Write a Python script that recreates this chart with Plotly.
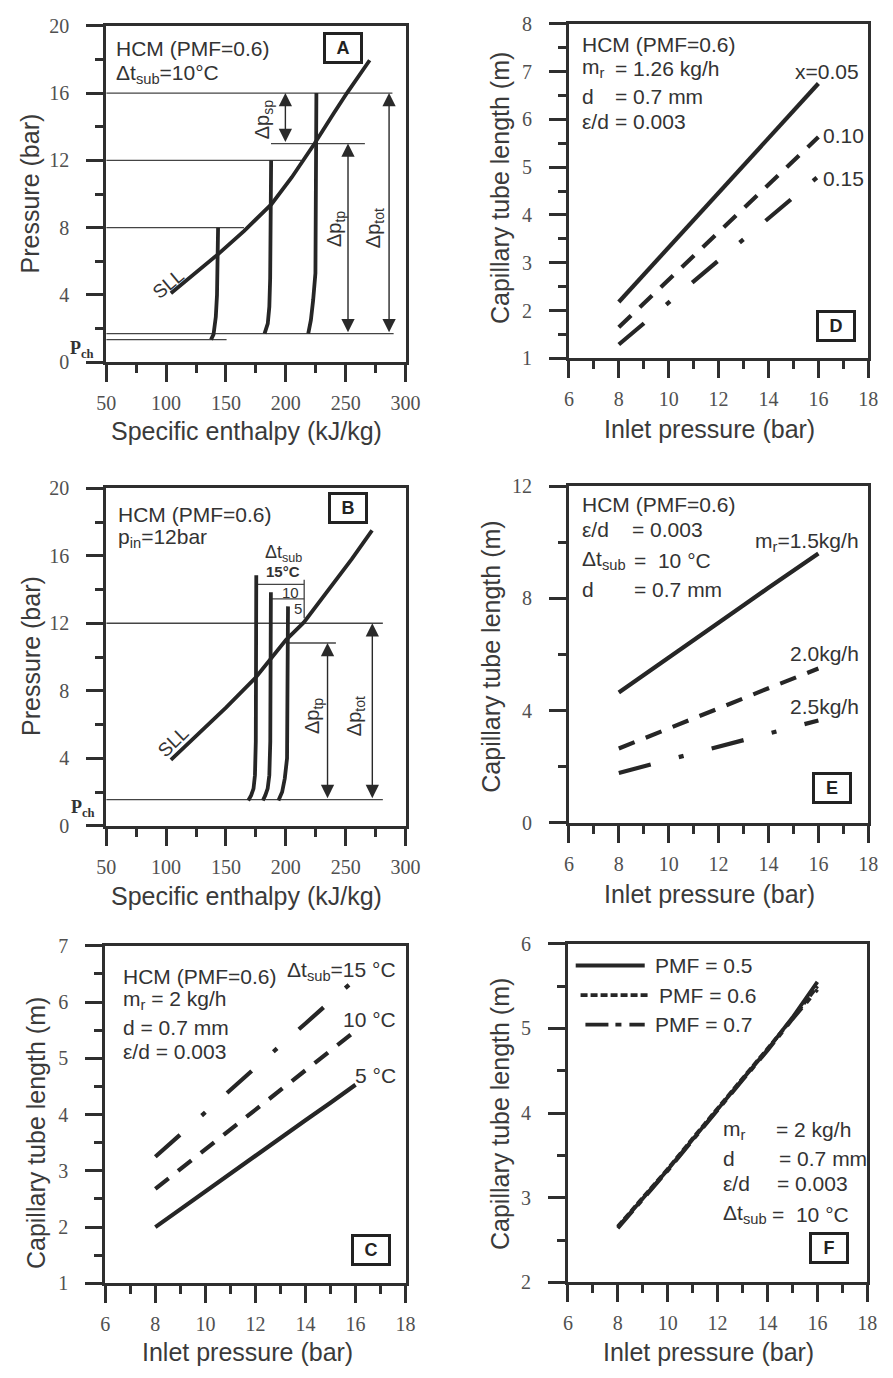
import plotly.graph_objects as go

W, H = 893, 1378
SANS = "Liberation Sans, Arial, sans-serif"
SERIF = "Liberation Serif, Times New Roman, serif"
INK = "#262626"
AXC = "#2f2f2f"
TICKC = "#505050"
TXT = "#333333"

# ---------------- Panel A: p-h diagram for three inlet pressures ----------------
sll_h_a = [104, 125, 143, 165, 188, 205, 224, 240, 251, 270]
sll_p_a = [4.1, 5.3, 6.4, 7.8, 9.4, 11.0, 13.0, 14.8, 16.0, 17.95]
exp8_h = [143.4, 143.2, 142.5, 141.5, 139.6, 137.5]
exp8_p = [8.0, 6.0, 4.0, 2.7, 1.66, 1.35]
exp12_h = [187.7, 187.5, 186.9, 186.2, 184.9, 182.2]
exp12_p = [12.0, 9.0, 5.0, 3.3, 2.3, 1.7]
exp16_h = [225.5, 225.3, 224.7, 222.8, 220.9, 218.7]
exp16_p = [16.0, 10.0, 5.3, 3.7, 2.5, 1.7]
isobar_p_a = [16, 13, 12, 8, 1.7, 1.35]
isobar_h0_a = [50, 187.6, 50, 50, 50, 50]
isobar_h1_a = [289, 266, 213, 165, 290, 150.5]
arrow_h_a = [199.6, 251.9, 286.2]
arrow_top_a = [16, 13, 16]
arrow_bot_a = [13, 1.7, 1.7]

# ---------------- Panel B: p-h diagram for three subcoolings at 12 bar ----------------
sll_h_b = [104, 125, 150, 175, 200, 215, 235, 255, 272]
sll_p_b = [3.9, 5.3, 7.0, 8.8, 11.0, 12.05, 13.9, 15.8, 17.5]
sub15_h = [175.3, 175.2, 174.9, 174.2, 173.0, 171.0, 168.6]
sub15_p = [14.85, 10.0, 5.0, 3.0, 2.2, 1.8, 1.5]
sub10_h = [187.5, 187.4, 187.0, 186.2, 184.8, 182.8, 180.8]
sub10_p = [13.84, 10.0, 5.0, 3.0, 2.2, 1.8, 1.5]
sub5_h = [201.8, 201.6, 201.0, 199.1, 196.9, 193.8]
sub5_p = [13.0, 8.0, 4.0, 2.8, 2.0, 1.5]
isobar_p_b = [1.55, 12, 10.83, 14.3, 13.45]
isobar_h0_b = [50, 50, 201, 175.2, 187.4]
isobar_h1_b = [281, 281, 241.8, 215.3, 215.3]
bracket_h_b = [215.3, 215.3]
bracket_p_b = [14.58, 12.3]
arrow_h_b = [234.8, 272.2]
arrow_top_b = [10.83, 12]
arrow_bot_b = [1.55, 1.55]

# ---------------- Panels C-F: tube length vs inlet pressure ----------------
p_in = [8, 9, 10, 11, 12, 13, 14, 15, 16]
# D: inlet quality
len_x005 = [2.18, 2.75, 3.32, 3.90, 4.47, 5.05, 5.62, 6.20, 6.75]
len_x010 = [1.65, 2.15, 2.64, 3.14, 3.64, 4.14, 4.63, 5.13, 5.63]
len_x015 = [1.29, 1.73, 2.17, 2.61, 3.05, 3.49, 3.93, 4.37, 4.81]
# E: mass flow rate
len_m15 = [4.65, 5.28, 5.90, 6.52, 7.14, 7.76, 8.38, 9.00, 9.60]
len_m20 = [2.65, 3.00, 3.36, 3.72, 4.08, 4.44, 4.80, 5.15, 5.50]
len_m25 = [1.78, 2.01, 2.25, 2.48, 2.72, 2.96, 3.19, 3.42, 3.65]
# C: subcooling
len_s5 = [2.00, 2.32, 2.63, 2.95, 3.27, 3.58, 3.90, 4.21, 4.53]
len_s10 = [2.68, 3.03, 3.38, 3.73, 4.08, 4.44, 4.79, 5.14, 5.49]
len_s15 = [3.25, 3.65, 4.04, 4.44, 4.83, 5.23, 5.62, 6.02, 6.41]
# F: pseudo-mass-fraction
len_pmf05 = [2.65, 2.99, 3.33, 3.69, 4.05, 4.40, 4.75, 5.13, 5.55]
len_pmf06 = [2.66, 3.00, 3.34, 3.70, 4.06, 4.41, 4.76, 5.12, 5.50]
len_pmf07 = [2.64, 2.98, 3.32, 3.68, 4.04, 4.39, 4.74, 5.11, 5.46]
pmf_labels = ["PMF = 0.5", "PMF = 0.6", "PMF = 0.7"]

DASH = "17px,12px"
DASHDOT = "33px,29px,5px,29px"
LW = 4.2

fig = go.Figure()


def line(x, y, ax, width=LW, dash="solid", color=INK):
    fig.add_trace(go.Scatter(
        x=x, y=y, mode="lines", xaxis="x" + ax, yaxis="y" + ax,
        line=dict(color=color, width=width, dash=dash), showlegend=False,
        hoverinfo="skip"))


def thin(x, y, ax):
    line(x, y, ax, width=1.3, color="#444444")


# Panel A (axes 1)
for p, h0, h1 in zip(isobar_p_a, isobar_h0_a, isobar_h1_a):
    thin([h0, h1], [p, p], "1")
line(sll_h_a, sll_p_a, "1", width=3.8)
for hh, pp in [(exp8_h, exp8_p), (exp12_h, exp12_p), (exp16_h, exp16_p)]:
    line(hh, pp, "1", width=3.8)

# Panel B (axes 3)
for p, h0, h1 in zip(isobar_p_b, isobar_h0_b, isobar_h1_b):
    thin([h0, h1], [p, p], "3")
thin(bracket_h_b, bracket_p_b, "3")
line(sll_h_b, sll_p_b, "3", width=3.8)
for hh, pp in [(sub15_h, sub15_p), (sub10_h, sub10_p), (sub5_h, sub5_p)]:
    line(hh, pp, "3", width=3.8)

# Panel D (axes 2)
line(p_in, len_x005, "2")
line(p_in, len_x010, "2", dash=DASH)
line(p_in, len_x015, "2", dash=DASHDOT)

# Panel E (axes 4)
line(p_in, len_m15, "4")
line(p_in, len_m20, "4", dash=DASH)
line(p_in, len_m25, "4", dash=DASHDOT)

# Panel C (axes 5)
line(p_in, len_s5, "5")
line(p_in, len_s10, "5", dash=DASH)
line(p_in, len_s15, "5", dash=DASHDOT)

# Panel F (axes 6)
PMF_DASHES = ["solid", "7px,3px", "23px,7px,6px,8px"]
for ys, d in zip([len_pmf05, len_pmf06, len_pmf07], PMF_DASHES):
    line(p_in, ys, "6", width=3.8, dash=d)


# ---------------- axes ----------------
def axis(domain, rng, dtick, minor, anchor, is_x):
    return dict(
        domain=domain, range=rng, tickmode="linear", tick0=rng[0], dtick=dtick,
        anchor=anchor, showline=True, linewidth=3, linecolor=AXC, mirror=True,
        ticks="outside", ticklen=17, tickwidth=3, tickcolor=AXC,
        showgrid=False, zeroline=False,
        tickfont=dict(family=SERIF, size=20, color=TICKC),
        ticklabelstandoff=4 if is_x else 13,
        minor=dict(tick0=rng[0], dtick=minor, ticks="outside", ticklen=8,
                   tickwidth=3, tickcolor=AXC, showgrid=False),
    )


def fx(a, b):
    return [a / W, b / W]


def fy(top, bottom):
    return [1 - bottom / H, 1 - top / H]


layout = dict(
    width=W, height=H, margin=dict(l=0, r=0, t=0, b=0),
    paper_bgcolor="white", plot_bgcolor="white", showlegend=False,
    xaxis=axis(fx(99, 407), [50, 300], 50, 25, "y", True),
    yaxis=axis(fy(15, 357), [0, 20], 4, 2, "x", False),
    xaxis2=axis(fx(575, 883), [6, 18], 2, 1, "y2", True),
    yaxis2=axis(fy(13, 353), [1, 8], 1, 0.5, "x2", False),
    xaxis3=axis(fx(99, 407), [50, 300], 50, 25, "y3", True),
    yaxis3=axis(fy(485, 828), [0, 20], 4, 2, "x3", False),
    xaxis4=axis(fx(575, 883), [6, 18], 2, 1, "y4", True),
    yaxis4=axis(fy(483, 825), [0, 12], 4, 2, "x4", False),
    xaxis5=axis(fx(98, 407), [6, 18], 2, 1, "y5", True),
    yaxis5=axis(fy(950, 1293), [1, 7], 1, 0.5, "x5", False),
    xaxis6=axis(fx(574, 882), [6, 18], 2, 1, "y6", True),
    yaxis6=axis(fy(948, 1292), [2, 6], 1, 0.5, "x6", False),
)
fig.update_layout(**layout)

ann = []
shapes = []


def txt(px, py, s, anchor="left", size=20, family=SANS, color=TXT, angle=0):
    ann.append(dict(x=px / W, y=1 - py / H, xref="paper", yref="paper", text=s,
                    showarrow=False, xanchor=anchor, yanchor="middle",
                    textangle=angle, font=dict(family=family, size=size, color=color)))


def dtxt(ax, x, y, s, angle=0, size=20):
    ann.append(dict(x=x, y=y, xref="x" + ax, yref="y" + ax, text=s, showarrow=False,
                    xanchor="center", yanchor="middle", textangle=angle,
                    font=dict(family=SANS, size=size, color=TXT)))


def darrow(ax, x, top, bot):
    ann.append(dict(x=x, y=top, ax=x, ay=bot, xref="x" + ax, yref="y" + ax,
                    axref="x" + ax, ayref="y" + ax, text="", showarrow=True,
                    arrowside="end+start", arrowhead=2, startarrowhead=2,
                    arrowsize=1.9, startarrowsize=1.9, arrowwidth=1.4,
                    arrowcolor="#2a2a2a"))


def box(px, py, letter):
    ann.append(dict(x=px / W, y=1 - py / H, xref="paper", yref="paper",
                    text="<b>%s</b>" % letter, showarrow=False, xanchor="center",
                    yanchor="middle", width=32, height=24, borderwidth=3,
                    bordercolor="#222222", bgcolor="white",
                    font=dict(family=SANS, size=18, color="#222222")))


# axis titles
for cx, cy, s in [(243, 427, "Specific enthalpy (kJ/kg)"), (243, 899, "Specific enthalpy (kJ/kg)"),
                  (720, 425, "Inlet pressure (bar)"), (720, 897, "Inlet pressure (bar)"),
                  (244, 1363, "Inlet pressure (bar)"), (719, 1363, "Inlet pressure (bar)")]:
    txt(cx, cy, s, anchor="center", size=25, color="#3a3a3a")
for cx, cy, s in [(21, 185, "Pressure (bar)"), (21, 655, "Pressure (bar)"),
                  (504, 180, "Capillary tube length (m)"), (494, 656, "Capillary tube length (m)"),
                  (27, 1140, "Capillary tube length (m)"), (504, 1121, "Capillary tube length (m)")]:
    txt(cx, cy, s, anchor="center", size=25, color="#3a3a3a", angle=-90)

# panel letters
box(342.5, 37.5, "A")
box(347.5, 505, "B")
box(371, 1259, "C")
box(849.5, 320.5, "D")
box(846, 789.5, "E")
box(843, 1257, "F")

# Panel A annotations
txt(107, 38, "HCM (PMF=0.6)", size=21)
txt(107, 64, "Δt<sub>sub</sub>=10°C", size=21)
for xa, t, b in zip(arrow_h_a, arrow_top_a, arrow_bot_a):
    darrow("1", xa, t, b)
dtxt("1", 182, 14.4, "Δp<sub>sp</sub>", angle=-90)
dtxt("1", 241.6, 7.9, "Δp<sub>tp</sub>", angle=-90)
dtxt("1", 274, 8.0, "Δp<sub>tot</sub>", angle=-90)
dtxt("1", 102, 4.7, "SLL", angle=-40, size=19)
txt(74, 344, "<b>P<sub>ch</sub></b>", anchor="center", size=18, family=SERIF, color="#333")

# Panel B annotations
txt(109, 512, "HCM (PMF=0.6)", size=21)
txt(109, 536, "p<sub>in</sub>=12bar", size=21)
for xa, t, b in zip(arrow_h_b, arrow_top_b, arrow_bot_b):
    darrow("3", xa, t, b)
dtxt("3", 222.6, 6.5, "Δp<sub>tp</sub>", angle=-90)
dtxt("3", 257.8, 6.5, "Δp<sub>tot</sub>", angle=-90)
dtxt("3", 106, 5.0, "SLL", angle=-44, size=19)
txt(281, 551, "Δt<sub>sub</sub>", anchor="center", size=18)
txt(281, 570, "<b>15°C</b>", anchor="center", size=15)
txt(289, 591, "10", anchor="center", size=15)
txt(296, 607, "5", anchor="center", size=15)
txt(75, 810, "<b>P<sub>ch</sub></b>", anchor="center", size=18, family=SERIF, color="#333")

# Panel D annotations
txt(586, 34, "HCM (PMF=0.6)", size=21)
txt(586, 58, "m<sub>r</sub>", size=21)
txt(620, 58, "= 1.26 kg/h", size=21)
txt(586, 87, "d", size=21)
txt(620, 87, "= 0.7 mm", size=21)
txt(586, 112, "ε/d", size=21)
txt(620, 112, "= 0.003", size=21)
txt(875, 61, "x=0.05", anchor="right", size=21)
txt(834, 127, "0.10", size=21)
txt(834, 170, "0.15", size=21)

# Panel E annotations
txt(586, 502, "HCM (PMF=0.6)", size=21)
txt(586, 527, "ε/d", size=21)
txt(638, 527, "= 0.003", size=21)
txt(586, 558, "Δt<sub>sub</sub>", size=21)
txt(640, 558, "=  10 °C", size=21)
txt(586, 588, "d", size=21)
txt(640, 588, "= 0.7 mm", size=21)
txt(876, 540, "m<sub>r</sub>=1.5kg/h", anchor="right", size=21)
txt(876, 653, "2.0kg/h", anchor="right", size=21)
txt(876, 707, "2.5kg/h", anchor="right", size=21)

# Panel C annotations
txt(114, 981, "HCM (PMF=0.6)", size=21)
txt(114, 1005, "m<sub>r</sub> = 2 kg/h", size=21)
txt(114, 1033, "d = 0.7 mm", size=21)
txt(114, 1057, "ε/d = 0.003", size=21)
txt(399, 976, "Δt<sub>sub</sub>=15 °C", anchor="right", size=21)
txt(399, 1025, "10 °C", anchor="right", size=21)
txt(399, 1082, "5 °C", anchor="right", size=21)

# Panel F annotations and key
txt(731, 1137, "m<sub>r</sub>", size=21)
txt(786, 1137, "= 2 kg/h", size=21)
txt(731, 1166, "d", size=21)
txt(789, 1166, "= 0.7 mm", size=21)
txt(731, 1192, "ε/d", size=21)
txt(787, 1192, "= 0.003", size=21)
txt(731, 1223, "Δt<sub>sub</sub>", size=21)
txt(782, 1223, "=  10 °C", size=21)
key_rows = [(970, 582, 653), (1000, 587, 657), (1030, 592, 653)]
for (ky, k0, k1), lab, d in zip(key_rows, pmf_labels, PMF_DASHES):
    shapes.append(dict(type="line", xref="paper", yref="paper",
                       x0=k0 / W, x1=k1 / W, y0=1 - ky / H, y1=1 - ky / H,
                       line=dict(color=INK, width=3.8, dash=d)))
    txt(k1 + 9, ky, lab, size=21)

fig.update_layout(annotations=ann, shapes=shapes)
fig.write_html("out.html")
